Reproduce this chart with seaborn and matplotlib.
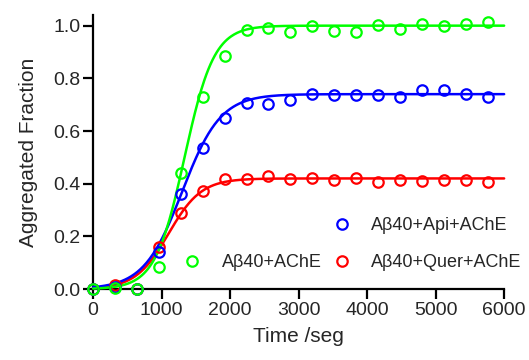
# Aggregation kinetics of Abeta40 with AChE (open circles + sigmoidal fits)

import numpy as np
import pandas as pd
import matplotlib
matplotlib.use("Agg")
import matplotlib.pyplot as plt
from matplotlib.lines import Line2D
import seaborn as sns

# --- data ---
time_s = [0, 320, 640, 960, 1280, 1600, 1920, 2240, 2560, 2880,
          3200, 3520, 3840, 4160, 4480, 4800, 5120, 5440, 5760]

ab_ache = [0.0, 0.005, 0.0, 0.085, 0.44, 0.731, 0.883, 0.985, 0.991, 0.976,
           0.997, 0.981, 0.975, 1.004, 0.989, 1.008, 1.0, 1.008, 1.012]
ab_api_ache = [0.0, 0.006, 0.0, 0.142, 0.361, 0.535, 0.649, 0.706, 0.703, 0.719,
               0.740, 0.735, 0.738, 0.738, 0.731, 0.754, 0.757, 0.741, 0.731]
ab_quer_ache = [0.0, 0.015, 0.0, 0.161, 0.29, 0.373, 0.417, 0.417, 0.430, 0.418,
                0.421, 0.414, 0.421, 0.406, 0.414, 0.412, 0.414, 0.414, 0.408]

# sigmoidal (Boltzmann) fit parameters: top, t50, slope
fit_ache = (1.0, 1335, 215)
fit_api = (0.74, 1300, 280)
fit_quer = (0.42, 1100, 240)

labels = ["A\u03b240+AChE", "A\u03b240+Api+AChE", "A\u03b240+Quer+AChE"]
colors = {"A\u03b240+AChE": "#00ff00",
          "A\u03b240+Api+AChE": "#0000ff",
          "A\u03b240+Quer+AChE": "#ff0000"}


def boltzmann(t, top, t50, slope):
    return top / (1.0 + np.exp((t50 - t) / slope))


sns.set_style("ticks")
plt.rcParams["font.family"] = ["Liberation Sans", "DejaVu Sans"]

fig = plt.figure(figsize=(5.29, 3.60), dpi=100)
ax = fig.add_axes([0.176, 0.197, 0.777, 0.761])

series = [(labels[2], ab_quer_ache, fit_quer),
          (labels[1], ab_api_ache, fit_api),
          (labels[0], ab_ache, fit_ache)]

t_fit = np.linspace(0, 6000, 400)
for name, vals, params in series:
    df_pts = pd.DataFrame({"t": time_s, "y": vals})
    df_fit = pd.DataFrame({"t": t_fit, "y": boltzmann(t_fit, *params)})
    sns.lineplot(data=df_fit, x="t", y="y", ax=ax, color=colors[name],
                 linewidth=1.8, clip_on=False, zorder=3)
    ax.plot(df_pts["t"], df_pts["y"], linestyle="none", marker="o",
            markersize=7.5, markerfacecolor="none",
            markeredgecolor=colors[name], markeredgewidth=1.6,
            clip_on=False, zorder=4)

ax.set_xlim(0, 6000)
ax.set_ylim(0, 1.04)
ax.set_xticks(range(0, 6001, 1000))
ax.set_yticks([0.0, 0.2, 0.4, 0.6, 0.8, 1.0])
ax.set_yticklabels([f"{v:.1f}" for v in [0.0, 0.2, 0.4, 0.6, 0.8, 1.0]])
ax.set_xlabel("Time /seg", fontsize=15, labelpad=6)
ax.set_ylabel("Aggregated Fraction", fontsize=15, labelpad=11)

sns.despine(ax=ax)
for side in ["left", "bottom"]:
    ax.spines[side].set_linewidth(1.6)
    ax.spines[side].set_color("black")
ax.tick_params(axis="both", labelsize=14, width=1.6, length=7,
               direction="out", color="black", pad=2)

# legend: empty slot top-left so the entries sit like in the original
def handle(name):
    return Line2D([], [], linestyle="none", marker="o", markersize=7.5,
                  markerfacecolor="none", markeredgecolor=colors[name],
                  markeredgewidth=1.6)

blank = Line2D([], [], linestyle="none", marker=None)
handles = [blank, handle(labels[0]), handle(labels[1]), handle(labels[2])]
leg_labels = ["", labels[0], labels[1], labels[2]]
fig.legend(handles, leg_labels, ncol=2, frameon=False, fontsize=13,
           loc="upper left", bbox_to_anchor=(0.3205, 0.422),
           borderpad=0, handlelength=1.5, handletextpad=0.9,
           columnspacing=0.35, labelspacing=1.1)

plt.savefig("out.png", dpi=100)
